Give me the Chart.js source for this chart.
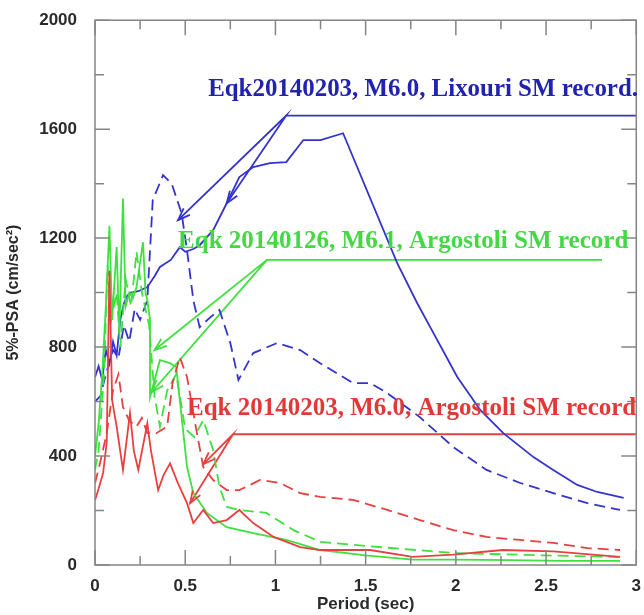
<!DOCTYPE html>
<html lang="en">
<head>
<meta charset="UTF-8">
<title>5%-PSA spectra</title>
<script src="https://cdn.jsdelivr.net/npm/chart.js"></script>
<style>
  body { margin: 0; background: #fff; }
</style>
</head>
<body>
<canvas id="psaChart" width="644" height="615"></canvas>
<script>
  // axis ticks
  const xTicks = [0, 0.5, 1, 1.5, 2, 2.5, 3];
  const xMinorTicks = [0.25, 0.75, 1.25, 1.75, 2.25, 2.75];
  const yTicks = [0, 400, 800, 1200, 1600, 2000];
  const yMinorTicks = [200, 600, 1000, 1400, 1800];

  // Lixouri record (blue)
  const blueSolidX = [0, 0.02, 0.04, 0.06, 0.08, 0.1, 0.12, 0.14, 0.16, 0.18, 0.2, 0.24, 0.29, 0.33, 0.36, 0.42, 0.47, 0.5, 0.545, 0.58, 0.655, 0.73, 0.8, 0.877, 0.97, 1.06, 1.155, 1.25, 1.375, 1.675, 1.786, 1.858, 2.008, 2.135, 2.263, 2.43, 2.54, 2.673, 2.784, 2.93];
  const blueSolidY = [690, 730, 680, 790, 740, 820, 770, 900, 960, 990, 1000, 1005, 1020, 1060, 1094, 1120, 1167, 1150, 1160, 1174, 1229, 1328, 1424, 1461, 1475, 1479, 1560, 1560, 1585, 1108, 961, 873, 690, 569, 484, 396, 349, 294, 268, 246];
  const blueDashX = [0, 0.03, 0.06, 0.1, 0.13, 0.16, 0.19, 0.22, 0.25, 0.29, 0.32, 0.377, 0.425, 0.48, 0.51, 0.545, 0.58, 0.64, 0.69, 0.75, 0.795, 0.877, 1.01, 1.137, 1.248, 1.43, 1.525, 1.62, 1.8, 1.986, 2.17, 2.357, 2.54, 2.73, 2.91];
  const blueDashY = [600, 620, 700, 790, 760, 880, 820, 940, 900, 972, 1339, 1431, 1400, 1291, 1156, 972, 873, 910, 936, 815, 679, 778, 815, 789, 741, 668, 668, 631, 543, 433, 349, 301, 264, 227, 202];

  // Argostoli record 20140126 (green)
  const greenSolidX = [0, 0.02, 0.04, 0.06, 0.08, 0.095, 0.12, 0.135, 0.155, 0.17, 0.19, 0.21, 0.23, 0.266, 0.28, 0.29, 0.305, 0.305, 0.36, 0.416, 0.45, 0.51, 0.545, 0.62, 0.73, 0.877, 1.06, 1.248, 1.5, 1.76, 2.0, 2.3, 2.6, 2.91];
  const greenSolidY = [400, 520, 700, 950, 1245, 900, 1167, 850, 1345, 950, 1000, 980, 1020, 1185, 1000, 972, 900, 617, 752, 741, 727, 360, 264, 191, 139, 117, 92, 55, 35, 20, 20, 18, 15, 15];
  const greenDashX = [0, 0.02, 0.05, 0.07, 0.09, 0.12, 0.14, 0.17, 0.2, 0.23, 0.26, 0.3, 0.33, 0.36, 0.4, 0.45, 0.5, 0.55, 0.6, 0.655, 0.69, 0.73, 0.8, 0.95, 1.1, 1.248, 1.5, 1.986, 2.5, 2.91];
  const greenDashY = [350, 420, 700, 1100, 900, 1000, 800, 1050, 950, 1150, 1000, 880, 620, 508, 640, 700, 500, 470, 532, 422, 286, 213, 202, 191, 128, 85, 70, 44, 35, 29];

  // Argostoli record 20140203 (red)
  const redSolidX = [0, 0.02, 0.045, 0.065, 0.08, 0.095, 0.12, 0.155, 0.194, 0.215, 0.24, 0.29, 0.31, 0.35, 0.38, 0.416, 0.46, 0.51, 0.545, 0.6, 0.655, 0.73, 0.8, 0.877, 0.99, 1.137, 1.248, 1.525, 1.76, 1.986, 2.26, 2.54, 2.91];
  const redSolidY = [238, 280, 338, 450, 1080, 605, 508, 349, 558, 420, 349, 520, 420, 275, 330, 373, 300, 227, 154, 202, 154, 165, 202, 154, 103, 66, 55, 55, 30, 38, 55, 50, 30];
  const redDashX = [0, 0.03, 0.065, 0.1, 0.13, 0.155, 0.19, 0.23, 0.26, 0.29, 0.34, 0.4, 0.43, 0.47, 0.51, 0.565, 0.6, 0.655, 0.73, 0.8, 0.915, 1.026, 1.137, 1.248, 1.43, 1.62, 1.8, 1.986, 2.17, 2.357, 2.54, 2.73, 2.91];
  const redDashY = [300, 380, 484, 642, 700, 580, 530, 508, 540, 484, 484, 508, 668, 763, 690, 484, 360, 312, 275, 275, 312, 301, 264, 250, 239, 202, 165, 128, 103, 92, 81, 62, 55];

  // label leader lines: tip, corner, tip, corner, end
  const blueLeaderX = [0.46, 1.06, 0.73, 1.06, 3.0];
  const blueLeaderY = [1266, 1650, 1328, 1650, 1650];
  const greenLeaderX = [0.33, 0.953, 0.315, 0.953, 2.81];
  const greenLeaderY = [789, 1120, 635, 1120, 1120];
  const redLeaderX = [0.527, 0.765, 0.6, 0.765, 3.0];
  const redLeaderY = [227, 480, 370, 480, 480];

  const labels = ['Eqk20140203, M6.0, Lixouri SM record.', 'Eqk 20140126, M6.1, Argostoli SM record', 'Eqk 20140203, M6.0, Argostoli SM record'];
  const labelColors = ['#2222b0', '#44d844', '#e23838'];

  const BLUE = '#3434cc', GREEN = '#3fe03f', RED = '#e84040';

  function pts(xs, ys) {
    return xs.map((x, i) => ({ x: x, y: ys[i] }));
  }

  function line(xs, ys, color, dashed) {
    return {
      data: pts(xs, ys),
      showLine: true,
      borderColor: color,
      borderWidth: 1.8,
      borderDash: dashed ? [11, 6] : [],
      pointRadius: 0,
      fill: false
    };
  }

  // frame, inward ticks, arrow heads and text labels
  const decorations = {
    id: 'decorations',
    afterDatasetsDraw(chart) {
      const ctx = chart.ctx;
      const xs = chart.scales.x, ys = chart.scales.y;
      const a = chart.chartArea;
      ctx.save();
      ctx.strokeStyle = '#858585';
      ctx.lineWidth = 1.5;
      ctx.strokeRect(a.left, a.top, a.right - a.left, a.bottom - a.top);

      ctx.beginPath();
      const tx = (v, len) => {
        const p = xs.getPixelForValue(v);
        ctx.moveTo(p, a.bottom); ctx.lineTo(p, a.bottom - len);
        ctx.moveTo(p, a.top); ctx.lineTo(p, a.top + len);
      };
      const ty = (v, len) => {
        const p = ys.getPixelForValue(v);
        ctx.moveTo(a.left, p); ctx.lineTo(a.left + len, p);
        ctx.moveTo(a.right, p); ctx.lineTo(a.right - len, p);
      };
      xTicks.forEach(v => tx(v, 15));
      xMinorTicks.forEach(v => tx(v, 9));
      yTicks.forEach(v => ty(v, 15));
      yMinorTicks.forEach(v => ty(v, 9));
      ctx.stroke();

      // arrow heads at the leader tips
      const leaders = [[blueLeaderX, blueLeaderY, BLUE], [greenLeaderX, greenLeaderY, GREEN], [redLeaderX, redLeaderY, RED]];
      leaders.forEach(([lx, ly, col]) => {
        ctx.strokeStyle = col;
        ctx.lineWidth = 1.8;
        [[0, 1], [2, 3]].forEach(([t, c]) => {
          const px = xs.getPixelForValue(lx[t]), py = ys.getPixelForValue(ly[t]);
          const cx = xs.getPixelForValue(lx[c]), cy = ys.getPixelForValue(ly[c]);
          const ang = Math.atan2(py - cy, px - cx);
          ctx.beginPath();
          ctx.moveTo(px - 13 * Math.cos(ang - 0.35), py - 13 * Math.sin(ang - 0.35));
          ctx.lineTo(px, py);
          ctx.lineTo(px - 13 * Math.cos(ang + 0.35), py - 13 * Math.sin(ang + 0.35));
          ctx.stroke();
        });
      });

      // labels, fitted between two x values
      const spots = [[0.627, 3.01, 1721], [0.46, 2.956, 1163], [0.51, 3.0, 550]];
      spots.forEach(([x0, x1, yv], i) => {
        const left = xs.getPixelForValue(x0), right = xs.getPixelForValue(x1);
        ctx.font = 'bold 20px "Liberation Serif", "DejaVu Serif", serif';
        const w = ctx.measureText(labels[i]).width;
        const size = 20 * (right - left) / w;
        ctx.font = 'bold ' + size.toFixed(2) + 'px "Liberation Serif", "DejaVu Serif", serif';
        ctx.fillStyle = labelColors[i];
        ctx.textBaseline = 'alphabetic';
        ctx.textAlign = 'left';
        ctx.fillText(labels[i], left, ys.getPixelForValue(yv));
      });
      ctx.restore();
    }
  };

  const tickFont = { family: '"Liberation Sans", Arial, sans-serif', size: 17, weight: 'bold' };

  new Chart(document.getElementById('psaChart'), {
    type: 'scatter',
    data: {
      datasets: [
        line(redDashX, redDashY, RED, true),
        line(redSolidX, redSolidY, RED, false),
        line(greenDashX, greenDashY, GREEN, true),
        line(greenSolidX, greenSolidY, GREEN, false),
        line(blueDashX, blueDashY, BLUE, true),
        line(blueSolidX, blueSolidY, BLUE, false),
        line(blueLeaderX, blueLeaderY, BLUE, false),
        line(greenLeaderX, greenLeaderY, GREEN, false),
        line(redLeaderX, redLeaderY, RED, false)
      ]
    },
    options: {
      responsive: false,
      animation: false,
      layout: { padding: { top: 11, right: 3, left: 0, bottom: 0 } },
      plugins: { legend: { display: false }, tooltip: { enabled: false } },
      scales: {
        x: {
          type: 'linear', min: 0, max: 3,
          afterFit: s => { s.height = 50; },
          afterBuildTicks: s => { s.ticks = xTicks.map(v => ({ value: v })); },
          grid: { display: false },
          border: { display: false },
          ticks: { padding: 3, color: '#2a2a2a', font: tickFont, callback: v => String(v) },
          title: { display: true, text: 'Period (sec)', color: '#2a2a2a', font: tickFont, padding: { top: 0, bottom: 0 } }
        },
        y: {
          type: 'linear', min: 0, max: 2000,
          afterFit: s => { s.width = 95; },
          afterBuildTicks: s => { s.ticks = yTicks.map(v => ({ value: v })); },
          grid: { display: false },
          border: { display: false },
          ticks: { padding: 10, color: '#2a2a2a', font: tickFont, callback: v => String(v) },
          title: { display: true, text: '5%-PSA (cm/sec²)', color: '#2a2a2a', font: { family: '"Liberation Sans", Arial, sans-serif', size: 16, weight: 'bold' }, padding: { top: 4, bottom: 0 } }
        }
      }
    },
    plugins: [decorations]
  });
</script>
</body>
</html>
